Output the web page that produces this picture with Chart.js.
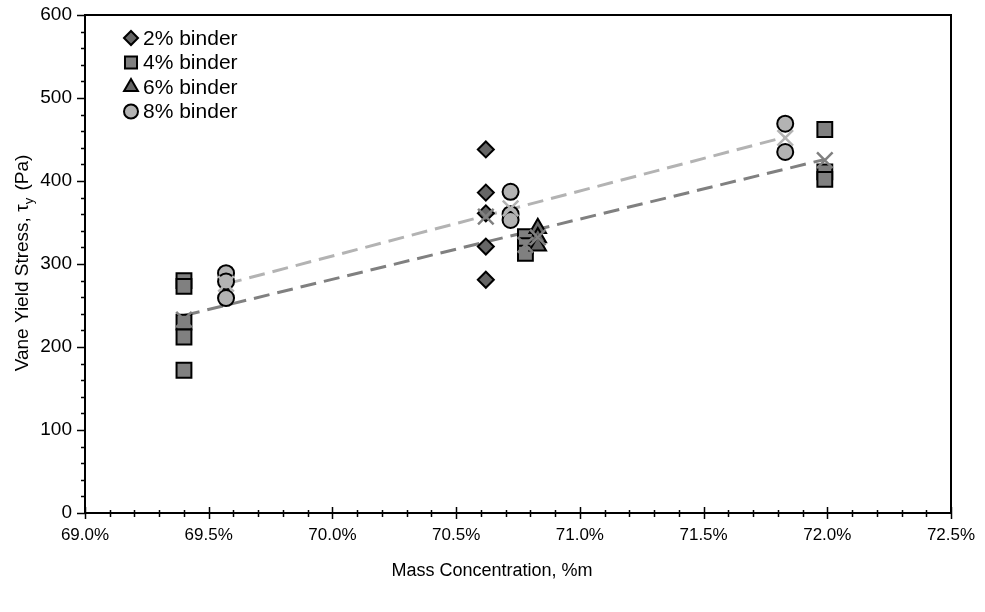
<!DOCTYPE html>
<html><head><meta charset="utf-8">
<script src="https://cdn.jsdelivr.net/npm/chart.js@4/dist/chart.umd.min.js"></script>
<style>html,body{margin:0;padding:0;background:#fff}#wrap{width:985px;height:612px;position:relative}</style>
</head><body><div id="wrap"><canvas id="c"></canvas></div>
<script>
// ---- data ----
const seriesNames = ['2% binder', '4% binder', '6% binder', '8% binder'];
const conc2 = [70.62, 70.62, 70.62, 70.62, 70.62];
const stress2 = [438, 386, 361, 321, 281];
const conc4 = [69.40, 69.40, 69.40, 69.40, 69.40, 70.78, 70.78, 70.78, 71.99, 71.99, 71.99];
const stress4 = [280, 273, 230, 212, 172, 333, 322, 313, 462, 411, 402];
const conc6 = [70.83, 70.83, 70.83];
const stress6 = [343, 332, 322];
const conc8 = [69.57, 69.57, 69.57, 70.72, 70.72, 70.72, 71.83, 71.83];
const stress8 = [289, 279, 259, 387, 360, 353, 469, 435];
const meanDarkConc = [69.40, 70.62, 70.78, 70.83, 71.99];
const meanDarkStress = [233, 357, 323, 332, 425];
const meanLightConc = [69.57, 70.72, 71.83];
const meanLightStress = [276, 367, 452];
const trendDarkConc = [69.40, 71.99];
const trendDarkStress = [238, 426];
const trendLightConc = [69.57, 71.83];
const trendLightStress = [276, 453];
const xTickValues = [69.0, 69.5, 70.0, 70.5, 71.0, 71.5, 72.0, 72.5];
const yTickValues = [0, 100, 200, 300, 400, 500, 600];
const xTitle = 'Mass Concentration, %m';
const yTitleParts = ['Vane Yield Stress, τ', 'y', ' (Pa)'];

const pts = (xs, ys) => xs.map((x, i) => ({x: x, y: ys[i]}));
const FONT = '"Liberation Sans", Arial, sans-serif';

const legendStyles = [
  {style: 'rectRot', r: 7, fill: '#666666'},
  {style: 'rect', r: 8.5, fill: '#808080'},
  {style: 'triangle', r: 8, fill: '#666666'},
  {style: 'circle', r: 7, fill: '#b3b3b3'}
];

const decor = {
  id: 'decor',
  afterDatasetsDraw(chart) {
    const ctx = chart.ctx, a = chart.chartArea;
    const xs = chart.scales.x, ys = chart.scales.y;
    ctx.save();
    ctx.strokeStyle = '#000';
    ctx.lineWidth = 2;
    ctx.strokeRect(a.left, a.top, a.right - a.left, a.bottom - a.top);
    // y ticks
    ctx.lineWidth = 1.5;
    ctx.beginPath();
    for (let v = ys.min; v <= ys.max + 1e-9; v += 20) {
      const p = Math.round(ys.getPixelForValue(v)) + 0.5;
      const major = Math.abs(v % 100) < 1e-6;
      ctx.moveTo(a.left - (major ? 8 : 4), p);
      ctx.lineTo(a.left, p);
    }
    // x ticks
    for (let k = 0; k <= 35; k++) {
      const v = xs.min + k * 0.1;
      const p = Math.round(xs.getPixelForValue(v)) + 0.5;
      const major = k % 5 === 0;
      ctx.moveTo(p, a.bottom + (major ? 6 : 4));
      ctx.lineTo(p, a.bottom - (major ? 6 : 3));
    }
    ctx.stroke();
    // legend
    ctx.font = '21px ' + FONT;
    ctx.textBaseline = 'middle';
    seriesNames.forEach((name, i) => {
      const y = 38 + i * 24.5;
      const s = legendStyles[i];
      ctx.fillStyle = s.fill;
      ctx.strokeStyle = '#000';
      ctx.lineWidth = 2;
      Chart.helpers.drawPoint(ctx, {pointStyle: s.style, radius: s.r, borderWidth: 2, rotation: 0}, 131, y);
      ctx.fillStyle = '#000';
      ctx.textAlign = 'left';
      ctx.fillText(name, 143, y + 1);
    });
    // x title
    ctx.font = '18px ' + FONT;
    ctx.textAlign = 'center';
    ctx.fillText(xTitle, 492, 571);
    // y title with subscript
    ctx.translate(23, (a.top + a.bottom) / 2);
    ctx.rotate(-Math.PI / 2);
    const f1 = '19px ' + FONT, f2 = '13px ' + FONT;
    ctx.font = f1; const w0 = ctx.measureText(yTitleParts[0]).width;
    ctx.font = f2; const w1 = ctx.measureText(yTitleParts[1]).width;
    ctx.font = f1; const w2 = ctx.measureText(yTitleParts[2]).width;
    let x0 = -(w0 + w1 + w2) / 2;
    ctx.textAlign = 'left';
    ctx.font = f1; ctx.fillText(yTitleParts[0], x0, 0);
    ctx.font = f2; ctx.fillText(yTitleParts[1], x0 + w0, 6);
    ctx.font = f1; ctx.fillText(yTitleParts[2], x0 + w0 + w1 + 2, 0);
    ctx.restore();
  }
};

const base = {showLine: false, borderColor: '#000', borderWidth: 2};
new Chart(document.getElementById('c'), {
  type: 'scatter',
  data: {
    datasets: [
      {label: 'trend light', data: pts(trendLightConc, trendLightStress), showLine: true, borderColor: '#b3b3b3', borderWidth: 3, borderDash: [16, 8], pointRadius: 0, order: 10},
      {label: 'trend dark', data: pts(trendDarkConc, trendDarkStress), showLine: true, borderColor: '#808080', borderWidth: 3, borderDash: [16, 8], pointRadius: 0, order: 9},
      Object.assign({label: seriesNames[0], data: pts(conc2, stress2), pointStyle: 'rectRot', pointRadius: 8, backgroundColor: '#666666', order: 8}, base),
      Object.assign({label: seriesNames[1], data: pts(conc4, stress4), pointStyle: 'rect', pointRadius: 10.5, backgroundColor: '#808080', order: 7}, base),
      Object.assign({label: seriesNames[2], data: pts(conc6, stress6), pointStyle: 'triangle', pointRadius: 9.5, backgroundColor: '#666666', order: 6}, base),
      Object.assign({label: seriesNames[3], data: pts(conc8, stress8), pointStyle: 'circle', pointRadius: 8, backgroundColor: '#b3b3b3', order: 5}, base),
      {label: 'mean dark', data: pts(meanDarkConc, meanDarkStress), pointStyle: 'crossRot', pointRadius: 11, borderColor: '#808080', borderWidth: 2.5, order: 4},
      {label: 'mean light', data: pts(meanLightConc, meanLightStress), pointStyle: 'crossRot', pointRadius: 11, borderColor: '#b3b3b3', borderWidth: 2.5, order: 3}
    ]
  },
  options: {
    responsive: true, maintainAspectRatio: false, animation: false,
    layout: {padding: {top: 15, right: 34, left: 0, bottom: 0}},
    plugins: {legend: {display: false}, tooltip: {enabled: false}},
    scales: {
      x: {
        type: 'linear', min: 69, max: 72.5,
        afterBuildTicks: s => { s.ticks = xTickValues.map(v => ({value: v})); },
        ticks: {callback: v => v.toFixed(1) + '%', color: '#000', font: {size: 17, family: FONT}, padding: 12, maxRotation: 0},
        grid: {display: false, drawTicks: false},
        border: {display: true, color: '#000', width: 2},
        afterFit: s => { s.height = 99; s.paddingLeft = 0; s.paddingRight = 0; }
      },
      y: {
        type: 'linear', min: 0, max: 600,
        afterBuildTicks: s => { s.ticks = yTickValues.map(v => ({value: v})); },
        ticks: {color: '#000', font: {size: 19, family: FONT}, padding: 13},
        grid: {display: false, drawTicks: false},
        border: {display: true, color: '#000', width: 2},
        afterFit: s => { s.width = 85; s.paddingTop = 0; s.paddingBottom = 0; }
      }
    }
  },
  plugins: [decor]
});
</script></body></html>
